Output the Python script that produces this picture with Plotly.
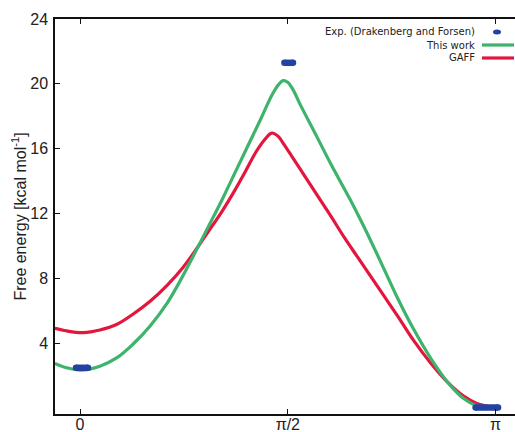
import plotly.graph_objects as go
import math

# ---- data ----
this_work_angle = [-0.19, -0.10, 0.01, 0.15, 0.28, 0.40, 0.53, 0.66, 0.78, 0.87, 0.97,
                   1.07, 1.17, 1.27, 1.37, 1.45, 1.50, 1.534, 1.57, 1.61, 1.66, 1.79,
                   1.90, 2.04, 2.14, 2.24, 2.32, 2.40, 2.52, 2.65, 2.78, 2.90, 3.00, 3.14]
this_work_energy = [2.77, 2.5, 2.36, 2.6, 3.12, 3.95, 5.08, 6.5, 8.2, 9.6, 11.2,
                    12.8, 14.5, 16.2, 17.9, 19.3, 19.95, 20.2, 20.1, 19.65, 18.8, 16.75,
                    15.0, 12.9, 11.3, 9.6, 8.2, 6.8, 4.9, 3.1, 1.6, 0.6, 0.15, 0.02]

gaff_angle = [-0.19, -0.10, 0.025, 0.15, 0.28, 0.40, 0.53, 0.66, 0.78, 0.87, 0.97,
              1.07, 1.16, 1.25, 1.33, 1.40, 1.449, 1.50, 1.535, 1.60, 1.70, 1.80,
              1.90, 2.00, 2.10, 2.20, 2.30, 2.40, 2.52, 2.65, 2.78, 2.90, 3.00, 3.14]
gaff_energy = [4.93, 4.77, 4.67, 4.83, 5.18, 5.8, 6.6, 7.6, 8.7, 9.7, 10.9,
               12.1, 13.3, 14.6, 15.8, 16.6, 16.97, 16.75, 16.35, 15.55, 14.3, 13.05,
               11.8, 10.5, 9.3, 8.1, 6.9, 5.7, 4.2, 2.8, 1.6, 0.75, 0.3, 0.05]

exp_angle_lo = [-0.03, 1.545, 2.99]
exp_angle_hi = [0.06, 1.61, 3.16]
exp_energy = [2.5, 21.3, 0.05]

x_tick_vals = [0, math.pi / 2, math.pi]
x_tick_text = ["0", "π/2", "π"]
y_tick_vals = [4, 8, 12, 16, 20, 24]

legend_labels = ["Exp. (Drakenberg and Forsen)", "This work", "GAFF"]

# ---- style ----
GREEN = "#3db36b"
RED = "#e3173e"
BLUE = "#2343a0"
W, H = 515, 432
ML, MT, MB, MR = 55, 19, 18, 0
PW, PH = W - ML - MR, H - MT - MB


def px(x):
    return (x - ML) / PW


def py(y):
    return (H - MB - y) / PH


fig = go.Figure()

fig.add_trace(go.Scatter(x=gaff_angle, y=gaff_energy, mode="lines",
                         line=dict(color=RED, width=3.2, shape="spline", smoothing=1.0),
                         showlegend=False, hoverinfo="skip"))
fig.add_trace(go.Scatter(x=this_work_angle, y=this_work_energy, mode="lines",
                         line=dict(color=GREEN, width=3.2, shape="spline", smoothing=1.0),
                         showlegend=False, hoverinfo="skip"))

seg_x, seg_y = [], []
for lo, hi, e in zip(exp_angle_lo, exp_angle_hi, exp_energy):
    seg_x += [lo, hi, None]
    seg_y += [e, e, None]
fig.add_trace(go.Scatter(x=seg_x, y=seg_y, mode="lines+markers",
                         line=dict(color=BLUE, width=6.5),
                         marker=dict(color=BLUE, size=6.5, line=dict(width=0)),
                         showlegend=False, hoverinfo="skip", cliponaxis=False))

# manual legend (symbols to the right of text)
legend_y = [32, 45, 58]
for lab, yy in zip(legend_labels, legend_y):
    fig.add_annotation(xref="paper", yref="paper", x=px(477), y=py(yy),
                       text=lab, showarrow=False, xanchor="right", yanchor="middle",
                       font=dict(family="DejaVu Sans", size=10, color="#222"))
fig.add_shape(type="circle", xref="paper", yref="paper",
              x0=px(493), x1=px(501), y0=py(34.5), y1=py(29.5),
              fillcolor=BLUE, line=dict(width=0))
for yy, col in zip(legend_y[1:], [GREEN, RED]):
    fig.add_shape(type="line", xref="paper", yref="paper",
                  x0=px(482), x1=px(514), y0=py(yy), y1=py(yy),
                  line=dict(color=col, width=3.2))

fig.update_layout(
    width=W, height=H,
    margin=dict(l=ML, r=MR, t=MT, b=MB, autoexpand=False),
    plot_bgcolor="white", paper_bgcolor="white",
    font=dict(family="Liberation Sans", size=16, color="#222"),
)
fig.update_xaxes(range=[-0.189, 3.288], tickvals=x_tick_vals, ticktext=x_tick_text,
                 showgrid=False, zeroline=False, showline=True, linecolor="#111",
                 linewidth=1.5, mirror="ticks", ticks="inside", ticklen=5,
                 tickcolor="#111", tickwidth=1.2, tickfont=dict(size=16),
                 ticklabelstandoff=-5, automargin=False)
fig.update_yaxes(range=[-0.35, 24], tickvals=y_tick_vals, showgrid=False, zeroline=False,
                 showline=True, linecolor="#111", linewidth=1.5, mirror=False,
                 ticks="inside", ticklen=5, tickcolor="#111", tickwidth=1.2,
                 tickfont=dict(size=16), automargin=False, ticklabelstandoff=2,
                 title=dict(text="Free energy [kcal mol<sup>-1</sup>]",
                            font=dict(size=16), standoff=0))

fig.write_html("out.html", config={"displayModeBar": False},
               post_script="document.body.style.margin='0';document.body.style.overflow='hidden';")
